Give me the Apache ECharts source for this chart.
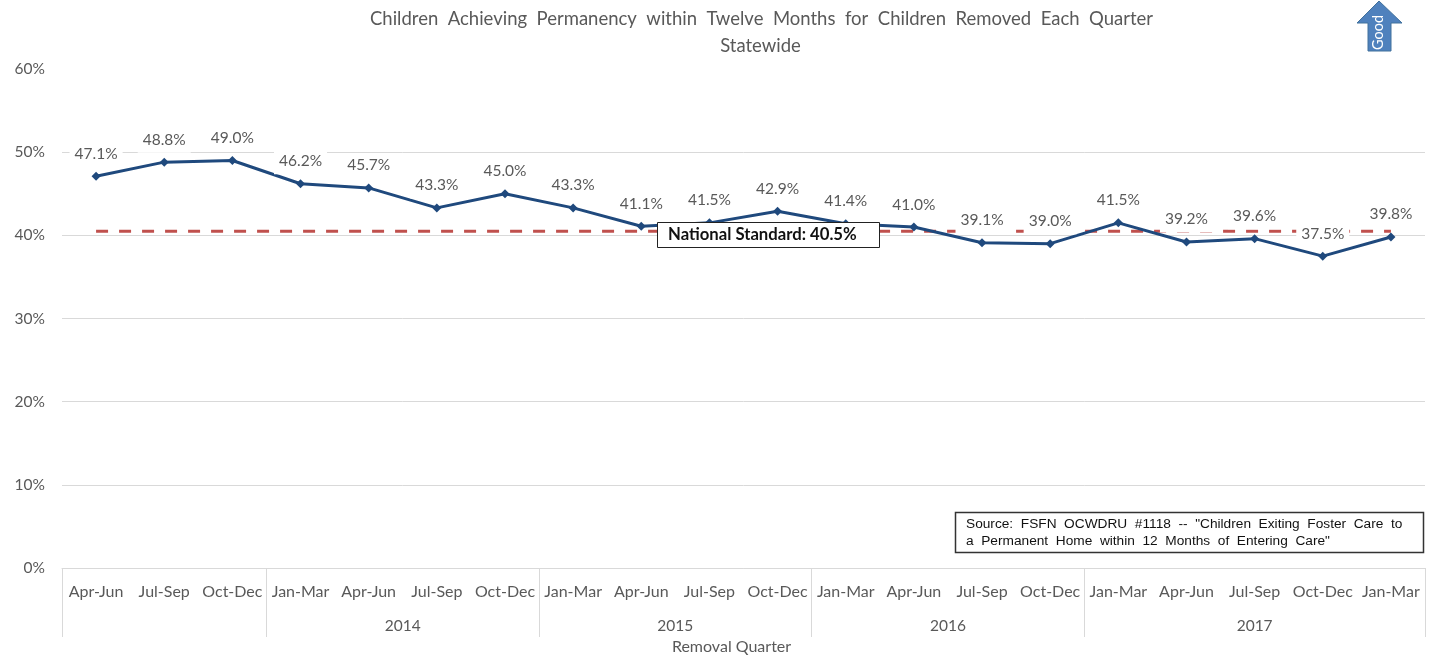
<!DOCTYPE html>
<html><head><meta charset="utf-8">
<style>html,body{margin:0;padding:0;background:#fff}#c{width:1434px;height:660px}</style>
<script src="https://cdn.jsdelivr.net/npm/echarts@6/dist/echarts.min.js"></script></head>
<body><div id="c"></div>
<script>
const quarters = ['Apr-Jun','Jul-Sep','Oct-Dec','Jan-Mar','Apr-Jun','Jul-Sep','Oct-Dec','Jan-Mar','Apr-Jun','Jul-Sep','Oct-Dec','Jan-Mar','Apr-Jun','Jul-Sep','Oct-Dec','Jan-Mar','Apr-Jun','Jul-Sep','Oct-Dec','Jan-Mar'];
const permanency = [47.1,48.8,49.0,46.2,45.7,43.3,45.0,43.3,41.1,41.5,42.9,41.4,41.0,39.1,39.0,41.5,39.2,39.6,37.5,39.8];
const nationalStandard = [40.5,40.5,40.5,40.5,40.5,40.5,40.5,40.5,40.5,40.5,40.5,40.5,40.5,40.5,40.5,40.5,40.5,40.5,40.5,40.5];
const yearBoundaries = [0,3,7,11,15,20];
const yearCentres = [5,9,13,17.5];
const yearLabels = ['2014','2015','2016','2017'];
const font = 'Lato, "Open Sans", sans-serif';
const grey = '#595959';
const chart = echarts.init(document.getElementById('c'), null, {renderer:'canvas'});
chart.setOption({
  animation:false,
  textStyle:{fontFamily:font,color:grey},
  grid:{left:62,right:9,top:69,bottom:91,containLabel:false},
  title:[
    {text:'Children  Achieving  Permanency  within  Twelve  Months  for  Children  Removed  Each  Quarter',left:756.5,top:5,textAlign:'center',textStyle:{fontFamily:font,fontSize:18.5,fontWeight:'normal',color:grey}},
    {text:'Statewide',left:755.5,top:32,textAlign:'center',textStyle:{fontFamily:font,fontSize:18.5,fontWeight:'normal',color:grey}}
  ],
  xAxis:[
    {type:'category',data:quarters,boundaryGap:true,position:'bottom',
     axisLine:{show:false},axisTick:{show:false},splitLine:{show:false},
     axisLabel:{interval:0,margin:16,fontSize:16,color:grey,fontFamily:font},
     name:'Removal Quarter',nameLocation:'middle',nameGap:71,nameTextStyle:{fontSize:16,color:grey,fontFamily:font,padding:[0,24,0,0]}},
    {type:'value',min:0,max:20,position:'bottom',
     axisLine:{show:true,onZero:false,lineStyle:{color:'#d9d9d9',width:1}},
     axisTick:{show:true,length:69,customValues:yearBoundaries,lineStyle:{color:'#d9d9d9',width:1}},
     splitLine:{show:false},
     axisLabel:{show:true,margin:50,fontSize:15.5,color:grey,fontFamily:font,customValues:yearCentres,
       formatter:v=>yearLabels[yearCentres.indexOf(v)]||''}}
  ],
  yAxis:{type:'value',min:0,max:60,interval:10,
    axisLine:{show:false},axisTick:{show:false},
    splitLine:{showMaxLine:false,lineStyle:{color:'#d9d9d9',width:1}},
    axisLabel:{formatter:'{value}%',fontSize:15.5,margin:17,color:grey,fontFamily:font,padding:[0,0,2,0]}},
  series:[
    {name:'National Standard',type:'line',data:nationalStandard,showSymbol:false,z:2,
     lineStyle:{color:'#c0504d',width:3,type:[12,11]},silent:true},
    {name:'Permanency',type:'line',data:permanency,z:3,symbol:'diamond',symbolSize:9,
     itemStyle:{color:'#1f497d'},lineStyle:{color:'#1f497d',width:3},
     label:{show:true,position:'top',distance:5,formatter:p=>p.value.toFixed(1)+'%',fontSize:15.5,color:grey,fontFamily:font,
       backgroundColor:'#fff',padding:[2,5,5,5]}}
  ],
  graphic:[
    {type:'rect',z:50,shape:{x:657.5,y:222.5,width:222,height:25},style:{fill:'#fff',stroke:'#222',lineWidth:1}},
    {type:'text',z:51,x:668,y:235,style:{text:'National Standard: 40.5%',fontFamily:font,fontSize:16.7,fontWeight:'bold',fill:'#111',verticalAlign:'middle'}},
    {type:'rect',z:50,shape:{x:955.5,y:512.5,width:468,height:40},style:{fill:'#fff',stroke:'#333',lineWidth:1.5}},
    {type:'text',z:51,x:966,y:515.5,style:{text:'Source:  FSFN  OCWDRU  #1118  --  "Children  Exiting  Foster  Care  to\na  Permanent  Home  within  12  Months  of  Entering  Care"',fontFamily:'"Liberation Sans"',fontSize:13.7,lineHeight:17,fill:'#111'}},
    {type:'polygon',z:50,shape:{points:[[1379,1],[1402,23],[1391,23],[1391,51],[1368,51],[1368,23],[1357,23]]},style:{fill:'#4f81bd',stroke:'#41719c',lineWidth:1}},
    {type:'text',z:51,x:1378,y:32.5,rotation:Math.PI/2,style:{text:'Good',fontFamily:font,fontSize:14.5,fill:'#fff',align:'center',verticalAlign:'middle'}}
  ]
});
</script></body></html>
